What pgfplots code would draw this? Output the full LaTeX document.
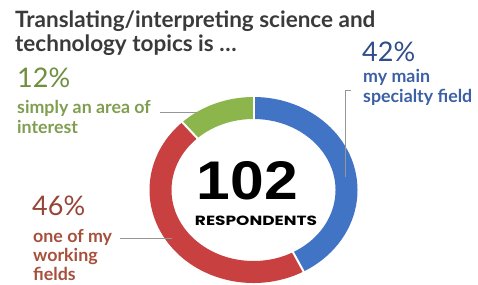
\documentclass[border=0pt]{standalone}
\usepackage{pgfplots}
\pgfplotsset{compat=1.18}
\usepackage{pgfplotstable}
\usepackage{fontspec}
\setmainfont{Lato}
\newfontfamily\numfont{Liberation Sans}
\newfontfamily\popfont{Poppins}
\definecolor{cblue}{RGB}{66,116,198}
\definecolor{cred}{RGB}{200,64,64}
\definecolor{cgreen}{RGB}{140,182,76}
\definecolor{tblue}{RGB}{48,78,138}
\definecolor{lblue}{RGB}{60,96,166}
\definecolor{tgreen}{RGB}{112,142,62}
\definecolor{lgreen}{RGB}{128,158,80}
\definecolor{tred}{RGB}{150,70,56}
\definecolor{lred}{RGB}{166,80,60}
\definecolor{ttitle}{RGB}{58,58,58}
\definecolor{lead}{RGB}{150,150,150}

\pgfplotstableread{
label value
main 42
working 46
interest 12
}\donutdata

\begin{document}
\begin{tikzpicture}
\pgfplotstablegetelem{0}{value}\of\donutdata \let\va\pgfplotsretval
\pgfplotstablegetelem{1}{value}\of\donutdata \let\vb\pgfplotsretval
\pgfplotstablegetelem{2}{value}\of\donutdata \let\vc\pgfplotsretval
\pgfmathsetmacro\aA{90}
\pgfmathsetmacro\aB{90-3.6*\va}
\pgfmathsetmacro\aC{\aB-3.6*\vb}
\pgfmathsetmacro\aD{\aC-3.6*\vc}
\def\seg#1#2#3{%
  \fill[#1] ([shift={(#2:104pt and 93pt)}]c) arc[start angle=#2,end angle=#3,x radius=104pt,y radius=93pt]
   -- ([shift={(#3:82pt and 71pt)}]c) arc[start angle=#3,end angle=#2,x radius=82pt,y radius=71pt] -- cycle;}
\def\gap#1{\draw[white,line width=2pt] ([shift={(#1:79pt and 68pt)}]c) -- ([shift={(#1:107pt and 96pt)}]c);}
\begin{axis}[
  width=478pt, height=284pt, scale only axis,
  xmin=0, xmax=478, ymin=0, ymax=284,
  hide axis, clip=false]
\coordinate (sw) at (axis cs:0,0);
\coordinate (ne) at (axis cs:478,284);
\coordinate (c) at (axis cs:253.5,94);
\seg{cblue}{\aA}{\aB}
\seg{cred}{\aB}{\aC}
\seg{cgreen}{\aC}{\aD}
\gap{\aA}\gap{\aB}\gap{\aC}
% title
\node[anchor=base west,text=ttitle,inner sep=0pt] at (axis cs:15,256) {\fontsize{22.5}{24}\selectfont\bfseries Translating/interpreting science and};
\node[anchor=base west,text=ttitle,inner sep=0pt] at (axis cs:15,232) {\fontsize{22.5}{24}\selectfont\bfseries technology topics is \dots};
% blue
\node[anchor=base west,text=tblue,inner sep=0pt] at (axis cs:362,222) {\fontsize{27}{29}\selectfont 42\%};
\node[anchor=base west,text=lblue,inner sep=0pt] at (axis cs:363,201) {\fontsize{17.8}{19}\selectfont\bfseries my main};
\node[anchor=base west,text=lblue,inner sep=0pt] at (axis cs:363,181) {\fontsize{17.8}{19}\selectfont\bfseries specialty field};
\draw[lead,line width=0.6pt] (axis cs:351,194) -- (axis cs:345,194) -- (axis cs:345,107);
% green
\node[anchor=base west,text=tgreen,inner sep=0pt] at (axis cs:17,196) {\fontsize{27}{29}\selectfont 12\%};
\node[anchor=base west,text=lgreen,inner sep=0pt] at (axis cs:17,171) {\fontsize{17.8}{19}\selectfont\bfseries simply an area of};
\node[anchor=base west,text=lgreen,inner sep=0pt] at (axis cs:17,150) {\fontsize{17.8}{19}\selectfont\bfseries interest};
\draw[lead,line width=0.6pt] (axis cs:160,172) -- (axis cs:197,172);
% red
\node[anchor=base west,text=tred,inner sep=0pt] at (axis cs:32,69) {\fontsize{27}{29}\selectfont 46\%};
\node[anchor=base west,text=lred,inner sep=0pt] at (axis cs:33,42) {\fontsize{17.8}{19}\selectfont\bfseries one of my};
\node[anchor=base west,text=lred,inner sep=0pt] at (axis cs:33,23) {\fontsize{17.8}{19}\selectfont\bfseries working};
\node[anchor=base west,text=lred,inner sep=0pt] at (axis cs:33,4) {\fontsize{17.8}{19}\selectfont\bfseries fields};
\draw[lead,line width=0.6pt] (axis cs:120,46) -- (axis cs:172,46);
% center
\node[anchor=base,inner sep=0pt] at (axis cs:247.5,84) {\resizebox{101pt}{38pt}{\numfont\bfseries 102}};
\node[anchor=base,inner sep=0pt] at (axis cs:256,59) {\resizebox{122pt}{9.5pt}{\popfont\bfseries RESPONDENTS}};
\end{axis}
\pgfresetboundingbox
\useasboundingbox (sw) rectangle (ne);
\end{tikzpicture}
\end{document}
